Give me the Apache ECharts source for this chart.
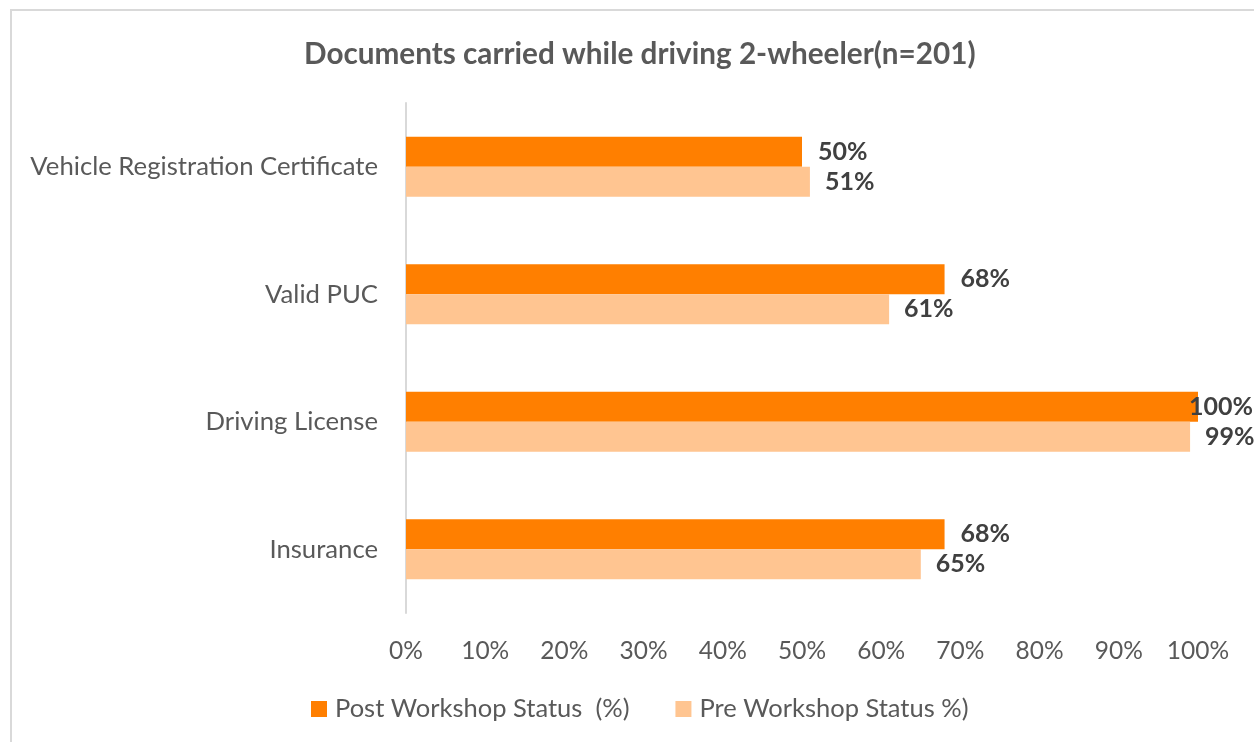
<!DOCTYPE html>
<html>
<head>
<meta charset="utf-8">
<script src="https://cdn.jsdelivr.net/npm/echarts@6/dist/echarts.min.js"></script>
<style>
html,body{margin:0;padding:0;background:#fff;}
#chart{width:1254px;height:742px;}
</style>
</head>
<body>
<div id="chart"></div>
<script>
const titleText = 'Documents carried while driving 2-wheeler(n=201)';
const categories = ['Vehicle Registration Certificate', 'Valid PUC', 'Driving License', 'Insurance'];
const seriesNames = ['Post Workshop Status  (%)', 'Pre Workshop Status %)'];
const postValues = [50, 68, 100, 68];
const preValues = [51, 61, 99, 65];
const tickLabels = ['0%', '10%', '20%', '30%', '40%', '50%', '60%', '70%', '80%', '90%', '100%'];

const FONT = 'Lato';
const colors = ['#FF7F00', '#FFC591'];

function mkData(vals) {
  return vals.map(v => v >= 100
    ? { value: v, label: { distance: -9 } }
    : { value: v });
}

const chart = echarts.init(document.getElementById('chart'), null, { renderer: 'canvas' });
const option = {
  backgroundColor: '#fff',
  animation: false,
  title: {
    text: titleText,
    left: 299,
    top: 34,
    textStyle: { fontFamily: FONT, fontSize: 29.7, fontWeight: 'bold', color: '#595959' }
  },
  graphic: [{
    type: 'rect',
    shape: { x: 11, y: 10, width: 1300, height: 800 },
    style: { fill: 'none', stroke: '#d9d9d9', lineWidth: 2 },
    silent: true
  }],
  legend: {
    bottom: 15,
    left: 306,
    itemWidth: 16,
    itemHeight: 16,
    itemGap: 46,
    icon: 'rect',
    textStyle: { fontFamily: FONT, fontSize: 25.5, color: '#595959', padding: [0, 0, 0, 3] },
    data: seriesNames
  },
  grid: { left: 406, right: 56, top: 103, bottom: 129, containLabel: false },
  xAxis: {
    type: 'value',
    min: 0, max: 100, interval: 10,
    axisLine: { show: false },
    axisTick: { show: false },
    splitLine: { show: false },
    axisLabel: {
      fontFamily: FONT, fontSize: 24.5, color: '#595959', margin: 26,
      formatter: (v) => tickLabels[Math.round(v / 10)]
    }
  },
  yAxis: {
    type: 'category',
    inverse: true,
    data: categories,
    axisLine: { show: true, lineStyle: { color: '#d9d9d9', width: 2 } },
    axisTick: { show: false },
    axisLabel: { fontFamily: FONT, fontSize: 25.7, color: '#595959', margin: 28 }
  },
  series: [
    {
      name: seriesNames[0], type: 'bar', barWidth: 30, barGap: '0%',
      itemStyle: { color: colors[0] },
      label: { show: true, position: 'right', distance: 16, formatter: '{c}%',
        fontFamily: FONT, fontSize: 25, fontWeight: 'bold', color: '#404040' },
      data: mkData(postValues)
    },
    {
      name: seriesNames[1], type: 'bar', barWidth: 30, barGap: '0%',
      itemStyle: { color: colors[1] },
      label: { show: true, position: 'right', distance: 15, formatter: '{c}%',
        fontFamily: FONT, fontSize: 25, fontWeight: 'bold', color: '#404040' },
      data: mkData(preValues)
    }
  ]
};
chart.setOption(option);
</script>
</body>
</html>
